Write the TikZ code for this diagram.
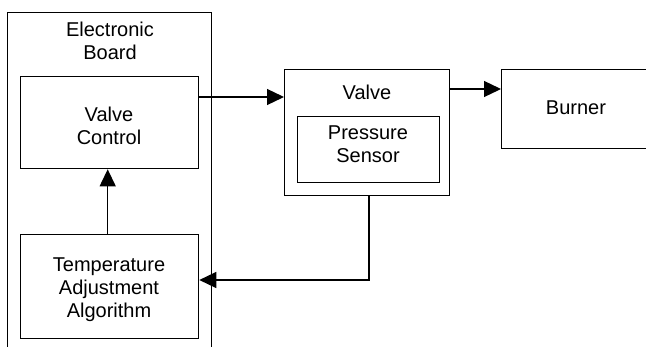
\documentclass[tikz,border=0pt]{standalone}
\usepackage{fontspec}
\setmainfont{Liberation Sans}
\usetikzlibrary{arrows.meta}
\begin{document}
\begin{tikzpicture}[x=1pt,y=-1pt,
  box/.style={draw, line width=1.3pt, inner sep=0pt, anchor=north west},
  txt/.style={align=center, font=\fontsize{20}{23}\selectfont, inner sep=0pt},
  arr/.style={line width=1.3pt, -{Triangle[length=17pt,width=16pt]}}]
\useasboundingbox (0,0) rectangle (646,346);
\clip (0,0) rectangle (646,346);
\fill[white] (0,0) rectangle (646,346);
% boxes
\node[box, minimum width=204, minimum height=360] (board) at (7,11.5) {};
\node[box, minimum width=178, minimum height=92] (vc) at (20,76) {};
\node[box, minimum width=178, minimum height=104] (temp) at (20,234) {};
\node[box, minimum width=165, minimum height=126] (valve) at (284,69) {};
\node[box, minimum width=142, minimum height=66] (ps) at (297,116) {};
\node[box, minimum width=150, minimum height=79] (burner) at (501,69) {};
% texts
\node[txt] (boardlbl) at (110,40.5) {Electronic\\Board};
\node[txt] (vclbl) at (109,126) {Valve\\Control};
\node[txt] (templbl) at (109,290) {Temperature\\Adjustment\\Algorithm};
\node[txt] (valvelbl) at (367,92.5) {Valve};
\node[txt] (pslbl) at (368,144.5) {Pressure\\Sensor};
\node[txt] (burnerlbl) at (576,107.5) {Burner};
% connectors
\draw[arr] (107.7,0 |- temp.north) -- (107.7,0 |- vc.south);
\draw[arr] (vc.east |- 0,97) -- (valve.west |- 0,97);
\draw[arr] (valve.east |- 0,89) -- (burner.west |- 0,89);
\draw[arr] (369,0 |- valve.south) -- (369,280) -- (temp.east |- 0,280);
\end{tikzpicture}
\end{document}
